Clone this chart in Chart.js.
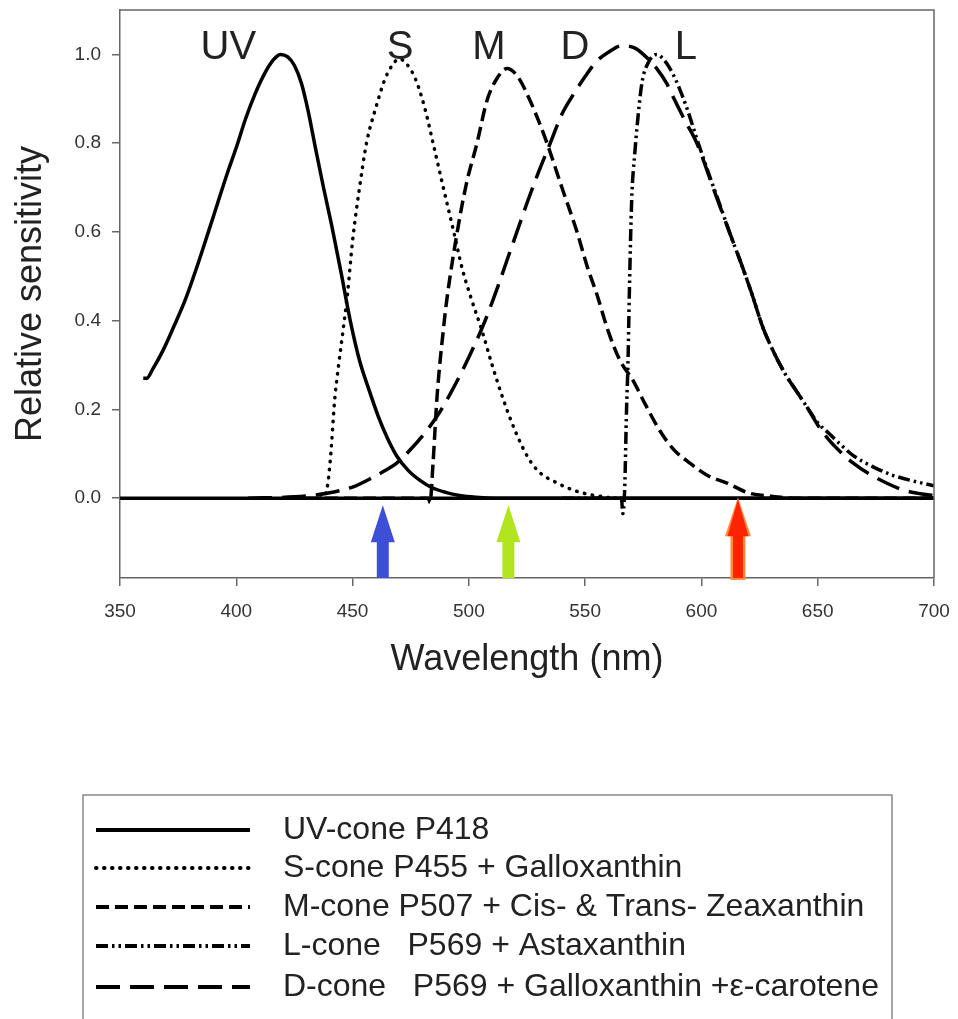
<!DOCTYPE html>
<html>
<head>
<meta charset="utf-8">
<title>Cone sensitivity</title>
<script src="https://cdn.jsdelivr.net/npm/chart.js@4.4.0/dist/chart.umd.min.js"></script>
<style>
    body { margin: 0; background: #fff; }
    #chart-container { width: 958px; height: 1019px; }
</style>
</head>
<body>
<div id="chart-container"><canvas id="cone-chart" width="958" height="1019"></canvas></div>
<script>
// Tick values
const xTicks = [350, 400, 450, 500, 550, 600, 650, 700];
const yTicks = [0.0, 0.2, 0.4, 0.6, 0.8, 1.0];

// UV-cone P418
const uvWl  = [360, 361.5, 364, 368.5, 373, 378, 383, 388, 392, 396, 400, 404, 408, 412, 416, 419, 422, 425, 428, 431, 434, 437.5, 441, 445, 449, 453, 457, 461, 465, 469, 474, 479, 484, 490, 496, 503, 512, 700];
const uvVal = [0.27, 0.27, 0.29, 0.333, 0.385, 0.446, 0.52, 0.60, 0.665, 0.73, 0.79, 0.855, 0.91, 0.955, 0.988, 1.0, 0.995, 0.975, 0.935, 0.87, 0.79, 0.70, 0.615, 0.51, 0.40, 0.31, 0.245, 0.185, 0.135, 0.095, 0.062, 0.04, 0.024, 0.013, 0.006, 0.002, 0, 0];

// S-cone P455 + Galloxanthin
const sWl  = [436, 438.5, 440.3, 442.4, 444, 445.9, 447.8, 450, 453, 456, 460, 464, 467, 470, 473, 477, 481, 484.6, 489, 493.5, 497, 501, 505.6, 510, 514.5, 519.8, 525.4, 530, 538, 545, 551, 557, 563, 570];
const sVal = [0, 0.01, 0.079, 0.227, 0.30, 0.378, 0.46, 0.58, 0.70, 0.80, 0.88, 0.945, 0.975, 0.99, 0.98, 0.945, 0.88, 0.80, 0.70, 0.60, 0.52, 0.45, 0.378, 0.30, 0.227, 0.153, 0.092, 0.06, 0.034, 0.018, 0.009, 0.004, 0, 0];

// M-cone P507 + Cis- & Trans- Zeaxanthin
const mWl  = [430, 482.6, 483.3, 484.6, 486.3, 489, 490.5, 495, 499, 503.5, 507.8, 512, 516.4, 521, 526.3, 530, 533.6, 540, 546.5, 551, 555, 559.8, 565, 570.5, 576, 582, 588, 595, 603, 611, 620, 630, 640, 700];
const mVal = [0, 0, -0.01, 0.079, 0.227, 0.378, 0.446, 0.60, 0.71, 0.80, 0.896, 0.945, 0.968, 0.95, 0.896, 0.85, 0.80, 0.70, 0.60, 0.52, 0.46, 0.378, 0.31, 0.266, 0.21, 0.153, 0.11, 0.079, 0.05, 0.034, 0.012, 0.004, 0, 0];

// L-cone P569 + Astaxanthin
const lWl  = [540, 565.6, 566.2, 567, 567.8, 568.4, 569, 570, 571.4, 572.2, 574.4, 577, 580.8, 583.5, 586.5, 590, 593.8, 598, 603.7, 608, 612, 617, 621.7, 626.4, 631, 636, 641, 645.4, 650, 655, 660, 665, 674, 682, 690, 700];
const lVal = [0, 0, -0.035, 0.02, 0.2, 0.30, 0.46, 0.67, 0.78, 0.83, 0.935, 0.98, 1.0, 0.99, 0.968, 0.93, 0.878, 0.81, 0.723, 0.66, 0.60, 0.53, 0.46, 0.385, 0.33, 0.28, 0.24, 0.205, 0.17, 0.145, 0.12, 0.097, 0.07, 0.052, 0.04, 0.028];

// D-cone P569 + Galloxanthin + e-carotene
const dWl  = [405, 425, 439, 450, 458.8, 464, 469, 475, 482, 487, 492, 497, 502, 507, 512, 517, 521, 525, 530, 535, 540, 545, 550, 555, 560, 566, 571, 575, 580.8, 585, 588.6, 593, 598, 605, 612, 617, 621.7, 626.4, 631, 636, 641, 645.4, 650, 655, 660, 665, 672, 680, 687, 694, 700];
const dVal = [0, 0.003, 0.011, 0.025, 0.047, 0.062, 0.079, 0.11, 0.153, 0.19, 0.235, 0.285, 0.34, 0.40, 0.47, 0.545, 0.605, 0.665, 0.735, 0.80, 0.865, 0.91, 0.95, 0.985, 1.005, 1.02, 1.015, 1.0, 0.968, 0.935, 0.896, 0.85, 0.80, 0.70, 0.60, 0.53, 0.46, 0.385, 0.33, 0.28, 0.24, 0.205, 0.165, 0.13, 0.103, 0.08, 0.055, 0.033, 0.018, 0.01, 0.006];

// Curve name labels above the peaks
const peakNames = ['UV', 'S', 'M', 'D', 'L'];
const peakNameWl = [396.6, 470.4, 508.6, 545.6, 593.3];

// Coloured arrows below the zero line
const arrowWl = [463, 517, 615.7];
const arrowColors = ['#3d4fd6', '#b2e41f', '#ff2400'];

const legendLabels = [
    'UV-cone P418',
    'S-cone P455 + Galloxanthin',
    'M-cone P507 + Cis- & Trans- Zeaxanthin',
    'L-cone   P569 + Astaxanthin',
    'D-cone   P569 + Galloxanthin +\u03b5-carotene'
];

function toPoints(wl, val) {
    return wl.map(function (x, i) { return { x: x, y: val[i] }; });
}

Chart.defaults.font.family = '"Liberation Sans", Arial, sans-serif';
Chart.defaults.color = '#333';

// Draws the thick zero line, arrows, peak names, frame and legend box
const extrasPlugin = {
    id: 'extras',
    beforeDatasetsDraw: function (chart) {
        var ctx = chart.ctx, area = chart.chartArea;
        var y0 = chart.scales.y.getPixelForValue(0);
        ctx.save();
        ctx.strokeStyle = '#000';
        ctx.lineWidth = 3.5;
        ctx.beginPath();
        ctx.moveTo(area.left, y0);
        ctx.lineTo(area.right, y0);
        ctx.stroke();
        ctx.restore();
    },
    afterDatasetsDraw: function (chart) {
        var ctx = chart.ctx, area = chart.chartArea;
        var xs = chart.scales.x, ys = chart.scales.y;
        ctx.save();
        // arrows
        var tip = ys.getPixelForValue(-0.016);
        arrowWl.forEach(function (wl, i) {
            var cx = xs.getPixelForValue(wl);
            var headW = 12, shaftW = 6, headH = 37;
            if (i === 2) {
                // orange rim on the red arrow
                drawArrow(ctx, cx, ys.getPixelForValue(0.0) - 1, area.bottom + 2, headW + 1, shaftW + 1.5, headH + 2, '#ff8c3c');
                drawArrow(ctx, cx, ys.getPixelForValue(0.0) + 1, area.bottom, headW - 1.5, shaftW - 1, headH, arrowColors[i]);
            } else {
                drawArrow(ctx, cx, tip, area.bottom, headW, shaftW, headH, arrowColors[i]);
            }
        });
        // peak names
        ctx.fillStyle = '#222';
        ctx.font = '40px "Liberation Sans", Arial, sans-serif';
        ctx.textAlign = 'center';
        ctx.textBaseline = 'alphabetic';
        peakNames.forEach(function (name, i) {
            ctx.fillText(name, xs.getPixelForValue(peakNameWl[i]), ys.getPixelForValue(0.99));
        });
        ctx.restore();
    },
    afterDraw: function (chart) {
        var ctx = chart.ctx, area = chart.chartArea;
        ctx.save();
        // top and right frame lines
        ctx.strokeStyle = '#666';
        ctx.lineWidth = 1.5;
        ctx.beginPath();
        ctx.moveTo(area.left, area.top);
        ctx.lineTo(area.right, area.top);
        ctx.lineTo(area.right, area.bottom);
        ctx.stroke();

        // legend box
        ctx.strokeStyle = '#888';
        ctx.strokeRect(83, 795, 809, 260);
        var rowY = [830, 868, 907, 946, 987];
        chart.data.datasets.forEach(function (ds, row) {
            ctx.save();
            ctx.strokeStyle = '#000';
            ctx.lineWidth = ds.borderWidth + 0.5;
            ctx.lineCap = ds.borderCapStyle || 'butt';
            ctx.setLineDash(ds.borderDash || []);
            ctx.beginPath();
            ctx.moveTo(96, rowY[row]);
            ctx.lineTo(250, rowY[row]);
            ctx.stroke();
            ctx.restore();
            ctx.fillStyle = '#222';
            ctx.font = '32px "Liberation Sans", Arial, sans-serif';
            ctx.textAlign = 'left';
            ctx.textBaseline = 'middle';
            ctx.fillText(legendLabels[row], 283, rowY[row]);
        });
        ctx.restore();
    }
};

function drawArrow(ctx, cx, tipY, baseY, headW, shaftW, headH, color) {
    ctx.fillStyle = color;
    ctx.beginPath();
    ctx.moveTo(cx, tipY);
    ctx.lineTo(cx + headW, tipY + headH);
    ctx.lineTo(cx + shaftW, tipY + headH);
    ctx.lineTo(cx + shaftW, baseY);
    ctx.lineTo(cx - shaftW, baseY);
    ctx.lineTo(cx - shaftW, tipY + headH);
    ctx.lineTo(cx - headW, tipY + headH);
    ctx.closePath();
    ctx.fill();
}

function makeSet(label, wl, val, dash, cap) {
    return {
        label: label,
        data: toPoints(wl, val),
        borderColor: '#000',
        borderWidth: 3.5,
        borderDash: dash,
        borderCapStyle: cap || 'butt',
        pointRadius: 0,
        fill: false,
        tension: 0.4,
        cubicInterpolationMode: 'monotone'
    };
}

function createChart() {
    var ctx = document.getElementById('cone-chart').getContext('2d');
    new Chart(ctx, {
        type: 'line',
        data: {
            datasets: [
                makeSet(legendLabels[0], uvWl, uvVal, []),
                makeSet(legendLabels[1], sWl, sVal, [0.5, 7.5], 'round'),
                makeSet(legendLabels[2], mWl, mVal, [13, 6]),
                makeSet(legendLabels[3], lWl, lVal, [12, 4, 2.5, 4, 2.5, 4]),
                makeSet(legendLabels[4], dWl, dVal, [24, 10])
            ]
        },
        options: {
            responsive: false,
            animation: false,
            layout: { padding: { left: 0, top: 10, right: 24, bottom: 341 } },
            plugins: { legend: { display: false }, tooltip: { enabled: false } },
            scales: {
                x: {
                    type: 'linear',
                    min: 350,
                    max: 700,
                    afterBuildTicks: function (scale) { scale.ticks = xTicks.map(function (v) { return { value: v }; }); },
                    afterFit: function (scale) { scale.height = 100; scale.paddingLeft = 0; scale.paddingRight = 0; },
                    grid: { drawOnChartArea: false, drawTicks: true, tickLength: 8, color: '#666', lineWidth: 1.5 },
                    border: { display: true, color: '#666', width: 1.5 },
                    ticks: { padding: 14, font: { size: 19 }, color: '#333', maxRotation: 0 },
                    title: { display: true, text: 'Wavelength (nm)', font: { size: 36, lineHeight: 1 }, color: '#222', padding: { top: 0, bottom: 0 } }
                },
                y: {
                    min: -0.18,
                    max: 1.1,
                    afterBuildTicks: function (scale) { scale.ticks = yTicks.map(function (v) { return { value: v }; }); },
                    afterFit: function (scale) { scale.width = 120; scale.paddingTop = 0; scale.paddingBottom = 0; },
                    grid: { drawOnChartArea: false, drawTicks: true, tickLength: 8, color: '#666', lineWidth: 1.5 },
                    border: { display: true, color: '#666', width: 1.5 },
                    ticks: { padding: 11, font: { size: 19 }, color: '#333', callback: function (v) { return v.toFixed(1); } },
                    title: { display: true, text: 'Relative sensitivity', font: { size: 36, lineHeight: 1 }, color: '#222', padding: { top: 13, bottom: 0 } }
                }
            }
        },
        plugins: [extrasPlugin]
    });
}

document.addEventListener('DOMContentLoaded', createChart);
</script>
</body>
</html>
